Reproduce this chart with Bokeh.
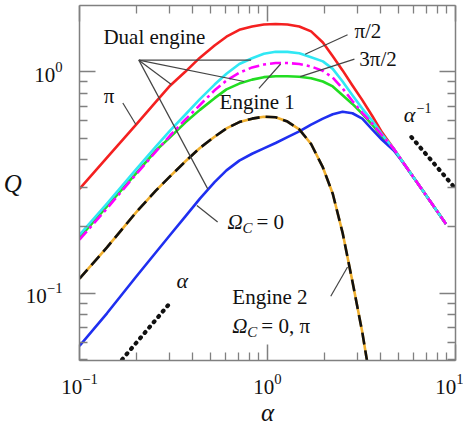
from bokeh.plotting import figure
from bokeh.models import Range1d, LogAxis, Label, FixedTicker, LogTickFormatter
from bokeh.embed import file_html
from bokeh.resources import INLINE

# ---- data ----
alpha = [0.1, 0.14, 0.2, 0.254, 0.304, 0.365, 0.437, 0.523, 0.605, 0.708, 0.828, 0.956, 1.105,
         1.277, 1.476, 1.706, 1.971, 2.224, 2.509, 2.83, 3.194, 3.602, 4.064, 4.696, 5.17, 6.58, 8.9]
q_pi = [0.296, 0.410, 0.578, 0.730, 0.868, 1.0, 1.159, 1.315, 1.441, 1.547, 1.602, 1.636, 1.644,
        1.636, 1.602, 1.523, 1.356, 1.176, 1.015, 0.868, 0.745, 0.6335, 0.533, 0.449, 0.399, 0.297, 0.2055]
q_half_pi = [0.1837, 0.2542, 0.3625, 0.458, 0.544, 0.640, 0.753, 0.876, 0.980, 1.085, 1.152, 1.206, 1.231,
             1.231, 1.213, 1.164, 1.115, 1.031, 0.904, 0.784, 0.682, 0.602, 0.5225, 0.449, 0.399, 0.297, 0.2055]
q_3half_pi = [0.1747, 0.2416, 0.3447, 0.435, 0.517, 0.608, 0.708, 0.825, 0.913, 0.990, 1.047, 1.079, 1.0955,
              1.0955, 1.085, 1.057, 1.010, 0.941, 0.842, 0.738, 0.653, 0.584, 0.517, 0.449, 0.399, 0.297, 0.2055]
q_engine1 = [0.1783, 0.2466, 0.3482, 0.44, 0.507, 0.590, 0.6733, 0.7604, 0.833, 0.885, 0.922, 0.946, 0.955,
             0.955, 0.9506, 0.936, 0.904, 0.859, 0.784, 0.716, 0.6465, 0.578, 0.509, 0.447, 0.399, 0.297, 0.2055]
q_zero = [0.0578, 0.0812, 0.1188, 0.1524, 0.1837, 0.2218, 0.2676, 0.3178, 0.3589, 0.3972, 0.4266, 0.451, 0.477,
          0.507, 0.5384, 0.578, 0.6145, 0.643, 0.660, 0.650, 0.6145, 0.5496, 0.4935, 0.441, 0.397, 0.297, 0.2055]

alpha_e2 = [0.1, 0.14, 0.2, 0.254, 0.304, 0.365, 0.437, 0.523, 0.605, 0.708, 0.828, 0.956, 1.105,
            1.277, 1.476, 1.706, 1.971, 2.224, 2.509, 2.83, 3.194, 3.39]
q_engine2 = [0.1165, 0.1611, 0.2320, 0.290, 0.3378, 0.3934, 0.4532, 0.5093, 0.555, 0.593, 0.6145, 0.6272, 0.624,
             0.596, 0.5496, 0.472, 0.370, 0.2813, 0.1875, 0.1129, 0.0666, 0.049]

# slope guides
guide_a_x = [0.1685, 0.297]
guide_a_y = [0.0502, 0.0886]
guide_inv_x = [5.83, 9.83]
guide_inv_y = [0.507, 0.302]

# pointer lines (annotation)
ptr_x0 = [0.2068, 0.2068, 0.2068, 0.2068, 0.170, 2.666, 2.90, 0.9005, 0.543, 2.17]
ptr_y0 = [1.129, 1.129, 1.129, 1.129, 0.723, 1.47, 1.141, 0.842, 0.2097, 0.097]
ptr_x1 = [0.818, 0.751, 0.308, 0.481, 0.1995, 1.586, 1.494, 1.174, 0.421, 2.666]
ptr_y1 = [1.129, 0.904, 0.876, 0.296, 0.578, 1.2, 0.951, 1.085, 0.249, 0.1315]

# axis ticks
x_major = [0.1, 1, 10]
x_minor = [0.2, 0.3, 0.4, 0.5, 0.6, 0.7, 0.8, 0.9, 2, 3, 4, 5, 6, 7, 8, 9]
y_major = [0.1, 1]
y_minor = [0.05, 0.06, 0.07, 0.08, 0.09, 0.2, 0.3, 0.4, 0.5, 0.6, 0.7, 0.8, 0.9]

FONT = "Liberation Serif"

p = figure(width=463, height=428, x_axis_type="log", y_axis_type="log",
           x_range=Range1d(0.1, 10), y_range=Range1d(0.0497, 1.993),
           output_backend="svg", toolbar_location=None,
           min_border_left=73, min_border_right=8, min_border_top=5, min_border_bottom=59)
p.grid.visible = False
p.outline_line_color = None
p.background_fill_color = "white"
p.border_fill_color = "white"


def style_axis(ax):
    ax.axis_line_color = "#808080"
    ax.axis_line_width = 1.5
    ax.major_tick_line_color = "#808080"
    ax.minor_tick_line_color = "#808080"
    ax.major_tick_line_width = 1.5
    ax.minor_tick_line_width = 1.3
    ax.major_tick_in = 16
    ax.major_tick_out = 0
    ax.minor_tick_in = 8
    ax.minor_tick_out = 0
    ax.major_label_text_font = FONT
    ax.major_label_text_font_size = "21px"
    ax.major_label_text_color = "#111111"
    ax.axis_label_text_font = FONT
    ax.axis_label_text_font_style = "italic"
    ax.axis_label_text_font_size = "25px"
    ax.axis_label_text_color = "#111111"


xt = FixedTicker(ticks=x_major, minor_ticks=x_minor)
yt = FixedTicker(ticks=y_major, minor_ticks=y_minor)

p.xaxis[0].ticker = xt
p.yaxis[0].ticker = yt
p.xaxis[0].formatter = LogTickFormatter()
p.yaxis[0].formatter = LogTickFormatter()
style_axis(p.xaxis[0])
style_axis(p.yaxis[0])
p.xaxis.axis_label = "α"
p.yaxis.axis_label = "Q"
p.xaxis.major_label_standoff = 13
p.yaxis.major_label_standoff = 17
p.xaxis.axis_label_standoff = 2
p.yaxis.axis_label_standoff = 1
p.yaxis.axis_label_orientation = "horizontal"

for loc, tk, majors in (("above", xt, x_major), ("right", yt, y_major)):
    ax = LogAxis(ticker=tk)
    style_axis(ax)
    ax.major_label_overrides = {m: "" for m in majors}
    ax.major_label_standoff = 0
    p.add_layout(ax, loc)

W = 2.6
kw = dict(line_width=W, line_join="round")
p.line(alpha, q_engine1, line_color="#22dd22", **kw)
p.line(alpha, q_zero, line_color="#1f2ff0", **kw)
p.line(alpha, q_pi, line_color="#f42020", **kw)
p.line(alpha, q_half_pi, line_color="#30e8f4", **kw)
p.line(alpha, q_3half_pi, line_color="#ff00ff", line_dash="11 4 3 4", **kw)
p.line(alpha_e2, q_engine2, line_color="#f0b030", **kw)
p.line(alpha_e2, q_engine2, line_color="#111111", line_dash="12 6", **kw)

p.line(guide_a_x, guide_a_y, line_color="#111111", line_width=4.2, line_dash="1 6", line_cap="round")
p.line(guide_inv_x, guide_inv_y, line_color="#111111", line_width=4.2, line_dash="1 6", line_cap="round")

p.segment(ptr_x0, ptr_y0, ptr_x1, ptr_y1, line_color="#444444", line_width=1.2)


def lab(x, y, text, size=21, style="normal", align="left", xo=0, yo=0):
    p.add_layout(Label(x=x, y=y, text=text, text_font=FONT, text_font_size=f"{size}px",
                       text_font_style=style, text_align=align, text_baseline="middle",
                       x_offset=xo, y_offset=yo, text_color="#111111"))


lab(0.134, 1.44, "Dual engine")
lab(0.1437, 0.776, "π", align="center")
lab(2.90, 1.531, "π/2")
lab(3.08, 1.141, "3π/2")
lab(0.556, 0.730, "Engine 1")
lab(5.30, 0.640, "α", size=22, style="italic")
lab(5.30, 0.640, "−1", size=14, xo=13, yo=7)
lab(0.612, 0.2097, "Ω", style="italic")
lab(0.612, 0.2097, "C", size=15, style="italic", xo=15, yo=-6)
lab(0.612, 0.2097, "= 0", xo=29)
lab(0.3516, 0.1141, "α", size=22, style="italic", align="center")
lab(0.650, 0.098, "Engine 2", yo=-2)
lab(0.650, 0.0723, "Ω", style="italic", yo=-2)
lab(0.650, 0.0723, "C", size=15, style="italic", xo=15, yo=-8)
lab(0.650, 0.0723, "= 0, π", xo=29, yo=-2)

open("out.html", "w").write(file_html(p, INLINE))
